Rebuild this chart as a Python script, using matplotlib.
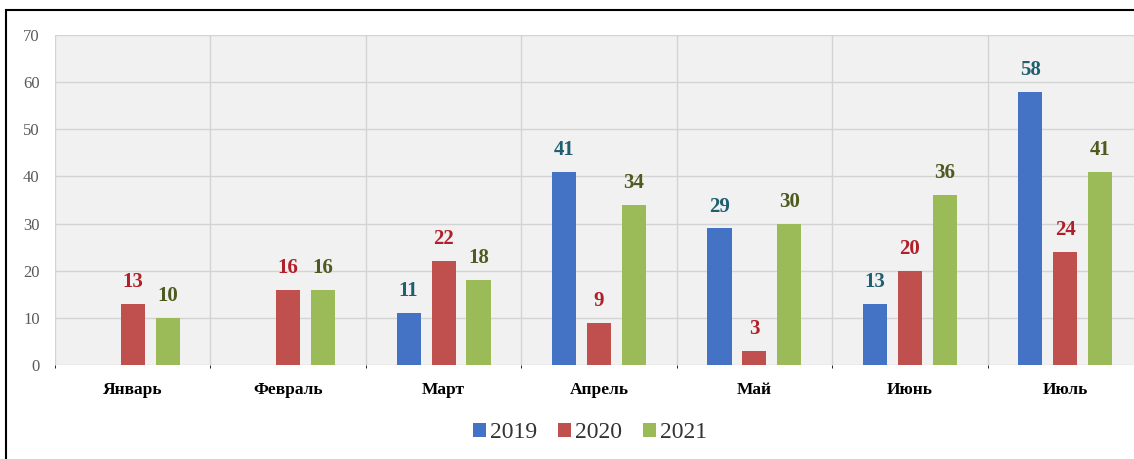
import matplotlib.pyplot as plt
import numpy as np
from matplotlib.patches import Rectangle
from matplotlib.font_manager import FontProperties

months = ["Январь", "Февраль", "Март", "Апрель", "Май", "Июнь", "Июль"]
years = ["2019", "2020", "2021"]
v2019 = [0, 0, 11, 41, 29, 13, 58]
v2020 = [13, 16, 22, 9, 3, 20, 24]
v2021 = [10, 16, 18, 34, 30, 36, 41]

bar_colors = ["#4472C4", "#C0504D", "#9BBB59"]
label_colors = ["#1F5F6F", "#B0202A", "#4F5A1E"]

W, H = 1134, 459
fig = plt.figure(figsize=(W / 100, H / 100), dpi=100)
ax = fig.add_axes([55 / W, 1 - 365 / H, (1143 - 55) / W, (365 - 35) / H])
ax.set_facecolor("#f1f1f1")

x = np.arange(len(months))
width = 0.155
step = 0.225
series = [v2019, v2020, v2021]
for i, vals in enumerate(series):
    pos = x + (i - 1) * step
    for p, v in zip(pos, vals):
        if v == 0:
            continue
        ax.bar(p, v, width, color=bar_colors[i], zorder=3)
        ax.text(p, v + 2.5, str(v), ha="center", va="bottom",
                fontsize=15, fontweight="bold", family="Liberation Serif",
                color=label_colors[i], zorder=4)
    # legend proxy
    ax.bar(np.nan, np.nan, color=bar_colors[i], label=years[i])

ax.set_xlim(-0.5, len(months) - 0.5)
ax.set_ylim(0, 70)
ax.set_yticks(range(0, 71, 10))
ax.set_xticks(x)
ax.set_xticklabels(months, family="Liberation Serif", fontweight="bold",
                   fontsize=12.5)
ax.tick_params(axis="y", labelsize=12, labelcolor="#595959", length=0, pad=11)
ax.tick_params(axis="x", length=0, pad=12)
for lab in ax.get_yticklabels():
    lab.set_family("Liberation Serif")

ax.set_xticks(np.arange(len(months) + 1) - 0.5, minor=True)
ax.grid(axis="y", color="#d3d3d3", linewidth=1, zorder=0)
ax.grid(axis="x", which="minor", color="#d3d3d3", linewidth=1, zorder=0)
ax.grid(axis="x", which="major", visible=False)
for s in ax.spines.values():
    s.set_visible(False)

leg_font = FontProperties(family="Liberation Serif", size=17)
leg = fig.legend(loc="center", bbox_to_anchor=(590 / W, 1 - 433 / H), ncol=3,
                 frameon=False, prop=leg_font,
                 handlelength=0.55, handleheight=0.55, handletextpad=0.15,
                 columnspacing=0.9)
for t in leg.get_texts():
    t.set_fontproperties(leg_font)
    t.set_color("#333333")

fig.patches.append(Rectangle((6 / W, -0.1), 2, 1 - 10 / H + 0.1,
                             transform=fig.transFigure, fill=False,
                             edgecolor="black", linewidth=1.5))

fig.savefig("out.png", dpi=100)
